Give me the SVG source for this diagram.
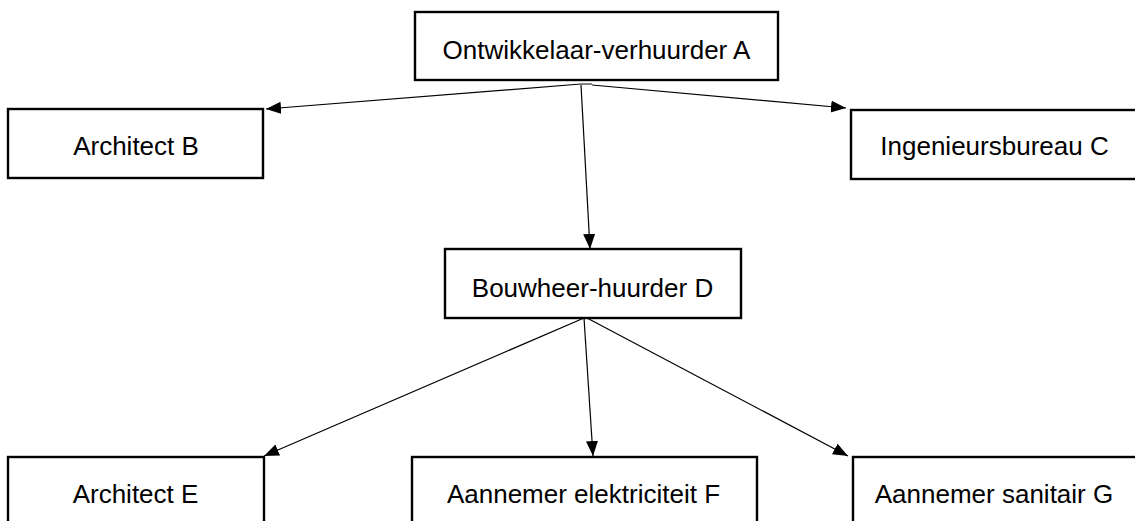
<svg xmlns="http://www.w3.org/2000/svg" width="1135" height="521" viewBox="0 0 1135 521">
<defs>
<style>
.box{fill:#fff;stroke:#000;stroke-width:2.4}
.lbl{font-family:"Liberation Sans",Arial,sans-serif;font-size:26px;fill:#000;text-anchor:middle}
.con{stroke:#000;stroke-width:1.2;fill:none;marker-end:url(#ah)}
</style>
<marker id="ah" markerUnits="userSpaceOnUse" markerWidth="17" markerHeight="13" refX="15" refY="6" orient="auto" viewBox="0 0 17 13">
<path d="M0,0 L15,6 L0,12 z" fill="#000"/>
</marker>
</defs>
<rect width="1135" height="521" fill="#fff"/>
<g id="nodeA"><rect class="box" x="415" y="12" width="363" height="68"/><text class="lbl" x="596.5" y="59">Ontwikkelaar-verhuurder A</text></g>
<g id="nodeB"><rect class="box" x="8" y="109" width="255" height="69"/><text class="lbl" x="136" y="155">Architect B</text></g>
<g id="nodeC"><rect class="box" x="851" y="110" width="300" height="69"/><text class="lbl" x="994.5" y="155">Ingenieursbureau C</text></g>
<g id="nodeD"><rect class="box" x="445" y="249" width="296" height="69"/><text class="lbl" x="592.5" y="297">Bouwheer-huurder D</text></g>
<g id="nodeE"><rect class="box" x="8" y="457" width="256" height="90"/><text class="lbl" x="135.5" y="503">Architect E</text></g>
<g id="nodeF"><rect class="box" x="412" y="457" width="345" height="90"/><text class="lbl" x="583.5" y="503">Aannemer elektriciteit F</text></g>
<g id="nodeG"><rect class="box" x="853" y="457" width="300" height="90"/><text class="lbl" x="994" y="503">Aannemer sanitair G</text></g>
<g id="connectors">
<line x1="581" y1="84" x2="592" y2="84" stroke="#000" stroke-width="1"/>
<line class="con" x1="581" y1="84" x2="266" y2="109"/>
<line class="con" x1="592" y1="85" x2="846" y2="108"/>
<line class="con" x1="581" y1="85" x2="590" y2="249"/>
<line class="con" x1="584" y1="318" x2="264" y2="456"/>
<line class="con" x1="584" y1="318" x2="593" y2="456"/>
<line class="con" x1="587" y1="318" x2="848" y2="456"/>
</g>
</svg>
